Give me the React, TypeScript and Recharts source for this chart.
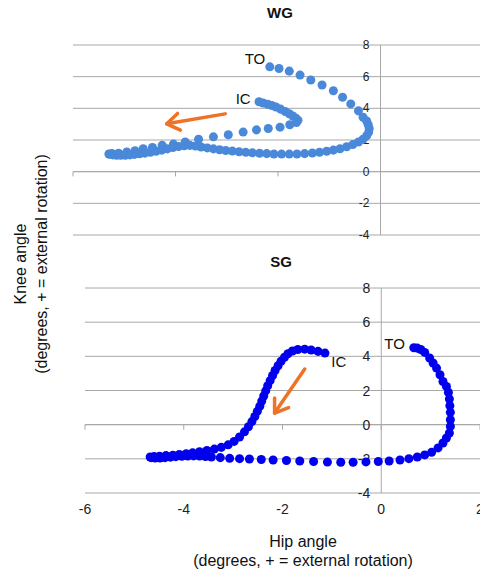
import {
  CartesianGrid,
  ReferenceDot,
  ReferenceLine,
  Scatter,
  ScatterChart,
  XAxis,
  YAxis,
  ZAxis,
} from "recharts";

const HIP_TICKS = [-6, -4, -2, 0, 2];
const KNEE_TICKS = [-4, -2, 0, 2, 4, 6, 8];

// WG: starts at IC, loops round, ends at TO
const wgHip = [
  -2.37, -2.29, -2.2, -2.12, -2.04, -1.95, -1.86, -1.78, -1.71, -1.65, -1.61, -1.64, -1.77,
  -1.96, -2.19, -2.42, -2.68, -2.97, -3.26, -3.55, -3.81, -4.04, -4.26, -4.45, -4.63, -4.79,
  -4.95, -5.11, -5.24, -5.3, -5.28, -5.22, -5.15, -5.07, -4.98, -4.89, -4.8, -4.7, -4.6, -4.49,
  -4.38, -4.27, -4.16, -4.05, -3.94, -3.83, -3.72, -3.61, -3.5, -3.38, -3.26, -3.14, -3.02,
  -2.89, -2.76, -2.63, -2.5, -2.36, -2.22, -2.08, -1.93, -1.78, -1.63, -1.48, -1.33, -1.19,
  -1.05, -0.92, -0.79, -0.66, -0.54, -0.43, -0.34, -0.27, -0.23, -0.22, -0.24, -0.27, -0.34,
  -0.43, -0.58, -0.74, -0.92, -1.14, -1.36, -1.57, -1.78, -1.98, -2.16,
];
const wgKnee = [
  4.42, 4.34, 4.26, 4.18, 4.08, 3.95, 3.8, 3.66, 3.52, 3.38, 3.25, 3.1, 2.96,
  2.81, 2.73, 2.64, 2.5, 2.33, 2.2, 2.05, 1.87, 1.74, 1.66, 1.53, 1.45, 1.32,
  1.24, 1.17, 1.15, 1.12, 1.1, 1.06, 1.04, 1.03, 1.04, 1.06, 1.09, 1.13, 1.17, 1.22,
  1.29, 1.36, 1.44, 1.52, 1.59, 1.64, 1.66, 1.62, 1.56, 1.5, 1.44, 1.38, 1.34,
  1.3, 1.26, 1.22, 1.19, 1.16, 1.14, 1.12, 1.11, 1.11, 1.12, 1.14, 1.18, 1.23,
  1.29, 1.36, 1.45, 1.57, 1.71, 1.87, 2.05, 2.27, 2.5, 2.73, 2.96, 3.2, 3.44,
  3.84, 4.28, 4.7, 5.11, 5.47, 5.79, 6.1, 6.35, 6.52, 6.62,
];

// SG: starts at IC, loops round, ends at TO
const sgHip = [
  -1.14, -1.28, -1.42, -1.55, -1.69, -1.8, -1.89, -1.96, -2.03, -2.09, -2.15, -2.2, -2.25,
  -2.3, -2.34, -2.38, -2.42, -2.46, -2.51, -2.56, -2.62, -2.69, -2.77, -2.87, -2.98, -3.1,
  -3.24, -3.38, -3.53, -3.68, -3.82, -3.95, -4.09, -4.22, -4.36, -4.49, -4.6, -4.68, -4.66,
  -4.58, -4.48, -4.38, -4.27, -4.16, -4.04, -3.92, -3.8, -3.68, -3.56, -3.44, -3.26, -3.07,
  -2.87, -2.67, -2.43, -2.19, -1.92, -1.65, -1.37, -1.09, -0.82, -0.57, -0.31, -0.06, 0.16,
  0.38, 0.56, 0.73, 0.88, 1.02, 1.15, 1.25, 1.32, 1.38, 1.4, 1.4, 1.4, 1.39, 1.38, 1.36,
  1.32, 1.25, 1.19, 1.12, 1.05, 0.98, 0.88, 0.8, 0.73, 0.66,
];
const sgKnee = [
  4.19, 4.29, 4.37, 4.42, 4.4, 4.31, 4.15, 3.95, 3.71, 3.45, 3.17, 2.88, 2.58,
  2.28, 1.98, 1.68, 1.38, 1.08, 0.78, 0.48, 0.18, -0.12, -0.42, -0.72, -0.98, -1.18,
  -1.33, -1.43, -1.51, -1.58, -1.65, -1.7, -1.74, -1.79, -1.81, -1.85, -1.87, -1.89, -1.93,
  -1.95, -1.95, -1.93, -1.9, -1.87, -1.85, -1.84, -1.83, -1.84, -1.86, -1.89, -1.93, -1.97,
  -1.99, -2.01, -2.04, -2.07, -2.1, -2.13, -2.16, -2.19, -2.2, -2.2, -2.18, -2.16, -2.13,
  -2.07, -1.99, -1.89, -1.77, -1.62, -1.36, -1.07, -0.78, -0.49, -0.1, 0.29, 0.72, 1.11, 1.5, 1.89,
  2.24, 2.53, 2.92, 3.31, 3.61, 3.9, 4.23, 4.4, 4.48, 4.5,
];

const wgNotes = [
  { text: "TO", hip: -2.45, knee: 7.12 },
  { text: "IC", hip: -2.68, knee: 4.59 },
];
const sgNotes = [
  { text: "TO", hip: 0.27, knee: 4.74 },
  { text: "IC", hip: -0.86, knee: 3.67 },
];
const wgArrow = [
  { hip: -3.03, knee: 3.65 },
  { hip: -4.17, knee: 3.02 },
];
const sgArrow = [
  { hip: -1.55, knee: 3.26 },
  { hip: -2.16, knee: 0.68 },
];

const GRID = "#a8a8a8";
const ORANGE = "#ef7326";
const FONT = "'Liberation Sans', Arial, sans-serif";

const wgData = wgHip.map((x, i) => ({ x, y: wgKnee[i] }));
const sgData = sgHip.map((x, i) => ({ x, y: sgKnee[i] }));

function Arrow(props: any) {
  const { x1, y1, x2, y2 } = props;
  const ang = Math.atan2(y2 - y1, x2 - x1);
  const len = 15;
  const spread = 0.6;
  const w1x = x2 - len * Math.cos(ang - spread);
  const w1y = y2 - len * Math.sin(ang - spread);
  const w2x = x2 - len * Math.cos(ang + spread);
  const w2y = y2 - len * Math.sin(ang + spread);
  return (
    <g stroke={ORANGE} strokeWidth={3.5} strokeLinecap="round" strokeLinejoin="round" fill="none">
      <line x1={x1} y1={y1} x2={x2} y2={y2} />
      <polyline points={`${w1x},${w1y} ${x2},${y2} ${w2x},${w2y}`} />
    </g>
  );
}

const kneeLabel = (v: number, fontSize: number) => (p: any) => (
  <text
    x={p.cx - 11}
    y={p.cy}
    textAnchor="end"
    dominantBaseline="central"
    fontSize={fontSize}
    fontFamily={FONT}
    fill="#222"
  >
    {v}
  </text>
);

const noteLabel = (text: string) => (p: any) => (
  <text
    x={p.cx}
    y={p.cy}
    textAnchor="middle"
    dominantBaseline="central"
    fontSize={15}
    fontFamily={FONT}
    fill="#111"
  >
    {text}
  </text>
);

interface PanelProps {
  data: { x: number; y: number }[];
  color: string;
  dotArea: number;
  notes: { text: string; hip: number; knee: number }[];
  arrow: { hip: number; knee: number }[];
  showHipTicks: boolean;
  labelSize: number;
  width: number;
  height: number;
  margin: { top: number; right: number; bottom: number; left: number };
}

function Panel({ data, color, dotArea, notes, arrow, showHipTicks, labelSize, width, height, margin }: PanelProps) {
  return (
    <ScatterChart width={width} height={height} margin={margin}>
      <CartesianGrid vertical={false} stroke={GRID} />
      <XAxis
        type="number"
        dataKey="x"
        domain={[-6, 2]}
        ticks={HIP_TICKS}
        allowDataOverflow
        hide={!showHipTicks}
        axisLine={false}
        tickLine={false}
        tickMargin={5}
        height={30}
        tick={{ fontSize: 14, fill: "#222", fontFamily: FONT }}
      />
      <YAxis type="number" dataKey="y" domain={[-4, 8]} ticks={KNEE_TICKS} allowDataOverflow hide />
      <ZAxis range={[dotArea, dotArea]} />
      <ReferenceLine x={0} stroke={GRID} />
      <ReferenceLine y={0} stroke={GRID} />
      {HIP_TICKS.map((t) => (
        <ReferenceLine
          key={`t${t}`}
          segment={[
            { x: t, y: 0 },
            { x: t, y: -0.3 },
          ]}
          stroke={GRID}
        />
      ))}
      {KNEE_TICKS.map((v) => (
        <ReferenceDot key={`k${v}`} x={0} y={v} r={0} shape={kneeLabel(v, labelSize)} />
      ))}
      <Scatter data={data} fill={color} isAnimationActive={false} />
      {notes.map((n) => (
        <ReferenceDot key={n.text} x={n.hip} y={n.knee} r={0} shape={noteLabel(n.text)} />
      ))}
      <ReferenceLine
        segment={arrow.map((a) => ({ x: a.hip, y: a.knee }))}
        shape={Arrow}
      />
    </ScatterChart>
  );
}

export default function App() {
  return (
    <div
      style={{
        position: "fixed",
        left: 0,
        top: 0,
        width: 480,
        height: 576,
        overflow: "hidden",
        background: "#fff",
        fontFamily: FONT,
        color: "#111",
      }}
    >
      <div style={{ position: "absolute", left: 230, width: 100, top: 4, textAlign: "center", fontWeight: "bold", fontSize: 15 }}>
        WG
      </div>
      <div style={{ position: "absolute", left: 0, top: 0 }}>
        <Panel
          data={wgData}
          color="#4a89d9"
          dotArea={30}
          notes={wgNotes}
          arrow={wgArrow}
          showHipTicks={false}
          labelSize={12}
          width={490}
          height={245}
          margin={{ top: 45, right: 7, bottom: 10, left: 73 }}
        />
      </div>
      <div style={{ position: "absolute", left: 231, width: 100, top: 253, textAlign: "center", fontWeight: "bold", fontSize: 15 }}>
        SG
      </div>
      <div style={{ position: "absolute", left: 0, top: 250 }}>
        <Panel
          data={sgData}
          color="#0000ee"
          dotArea={36}
          notes={sgNotes}
          arrow={sgArrow}
          showHipTicks={true}
          labelSize={14}
          width={490}
          height={273}
          margin={{ top: 38, right: 10, bottom: 0, left: 85 }}
        />
      </div>
      <div style={{ position: "absolute", left: 153, width: 300, top: 532, textAlign: "center", fontSize: 16, lineHeight: "19px" }}>
        Hip angle
        <br />
        (degrees, + = external rotation)
      </div>
      <div
        style={{
          position: "absolute",
          left: 29 - 150,
          top: 264 - 19,
          width: 300,
          height: 38,
          textAlign: "center",
          fontSize: 16,
          lineHeight: "21px",
          transform: "rotate(-90deg)",
        }}
      >
        Knee angle
        <br />
        (degrees, + = external rotation)
      </div>
    </div>
  );
}
